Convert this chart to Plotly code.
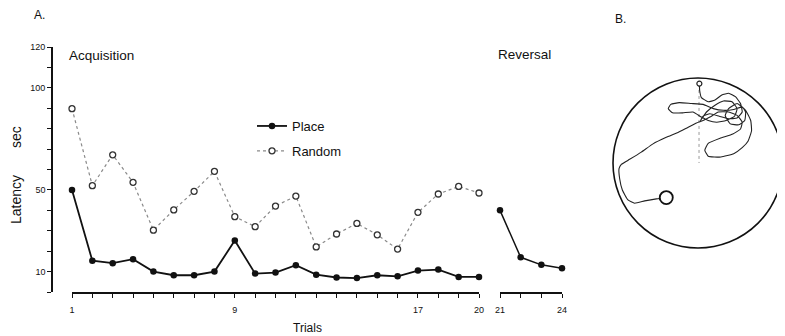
import plotly.graph_objects as go

# ---------------- data ----------------
acq_trials = list(range(1, 22))                       # 21 acquisition points
acq_tick_text = ["1", "", "", "", "", "", "", "", "9", "", "", "", "", "", "", "", "", "17", "", "", "20"]
rev_trials = [21, 22, 23, 24]
rev_tick_text = ["21", "", "", "24"]

place_acq = [50, 15.3, 14.1, 16.1, 10, 8.2, 8.2, 10, 25.2, 9, 9.5, 13.1, 8.5,
             7.1, 6.8, 8.2, 7.7, 10.5, 11.0, 7.4, 7.4]
random_acq = [89.8, 52.1, 67.2, 53.7, 30.3, 40.2, 49.3, 59.1, 36.9, 32, 42.1,
              47, 22.1, 28.4, 33.6, 28, 21, 39, 48, 51.7, 48.5]
place_rev = [40, 17, 13.3, 11.6]

y_tick_vals = list(range(0, 121, 10))
y_tick_text = ["" if v not in (10, 50, 100, 120) else str(v) for v in y_tick_vals]

# panel B: swim path in units of pool radius
path_x = [0.016, 0.02, 0.04, 0.12, 0.2, 0.28, 0.36, 0.44, 0.5, 0.52, 0.46, 0.36, 0.25,
          0.14, 0.06, 0.03, 0.1, 0.2, 0.3, 0.4, 0.46, 0.43, 0.33, 0.22, 0.12, 0.04,
          -0.06, -0.18, -0.3, -0.35, -0.32, -0.22, -0.08, 0.06,
          0.18, 0.3, 0.42, 0.52, 0.56, 0.55, 0.48, 0.38, 0.32, 0.36, 0.46,
          0.56, 0.62, 0.63, 0.59, 0.52, 0.42, 0.27, 0.12, 0.08, 0.12, 0.26, 0.41, 0.5,
          0.52, 0.46, 0.36, 0.24, 0.14, 0.06, 0.016,
          -0.098, -0.235, -0.373, -0.529, -0.667, -0.804, -0.902, -0.929,
          -0.922, -0.89, -0.824, -0.745, -0.627, -0.49, -0.431]
path_y = [0.934, 0.85, 0.77, 0.72, 0.74, 0.80, 0.82, 0.78, 0.70, 0.60, 0.53, 0.52, 0.55,
          0.58, 0.55, 0.50, 0.60, 0.68, 0.73, 0.72, 0.64, 0.55, 0.50, 0.48, 0.50, 0.54,
          0.60, 0.59, 0.59, 0.64, 0.69, 0.71, 0.70, 0.69,
          0.64, 0.62, 0.63, 0.66, 0.60, 0.50, 0.45, 0.46, 0.56, 0.64, 0.70,
          0.62, 0.50, 0.38, 0.26, 0.18, 0.11, 0.07, 0.08, 0.15, 0.23, 0.29, 0.34, 0.40,
          0.48, 0.56, 0.60, 0.60, 0.54, 0.50, 0.484,
          0.43, 0.36, 0.302, 0.225, 0.128, 0.043, -0.016, -0.066,
          -0.182, -0.318, -0.434, -0.473, -0.446, -0.422, -0.415]
start_xy = (0.016, 0.934)
platform_xy = (-0.373, -0.407)

W, H = 785, 336
OFF = 8  # page body margin of the rendered html
def px(x): return (x - OFF) / W
def py(y): return 1 - (y - OFF) / H

FONT = "Liberation Sans, Arial, sans-serif"
fig = go.Figure()

# Place (acquisition)
fig.add_trace(go.Scatter(
    x=acq_trials, y=place_acq, mode="lines+markers", name="Place",
    line=dict(color="#111", width=1.8), marker=dict(color="#111", size=6.5),
    xaxis="x", yaxis="y", cliponaxis=False, legendgroup="a"))
# Random (acquisition)
fig.add_trace(go.Scatter(
    x=acq_trials, y=random_acq, mode="lines+markers", name="Random",
    line=dict(color="#8a8a8a", width=1.2, dash="dot"),
    marker=dict(color="white", size=6, symbol="circle", line=dict(color="#333", width=1.3)),
    xaxis="x", yaxis="y", cliponaxis=False, legendgroup="b"))
# Place (reversal)
fig.add_trace(go.Scatter(
    x=rev_trials, y=place_rev, mode="lines+markers", showlegend=False,
    line=dict(color="#111", width=1.5), marker=dict(color="#111", size=6.5),
    xaxis="x2", yaxis="y", cliponaxis=False))

# Panel B
fig.add_trace(go.Scatter(x=[0.012, 0.012], y=[0.93, 0.0], mode="lines", showlegend=False,
                         line=dict(color="#999", width=1, dash="dot"), xaxis="x3", yaxis="y3"))
fig.add_trace(go.Scatter(x=path_x, y=path_y, mode="lines", showlegend=False,
                         line=dict(color="#222", width=1.1, shape="spline", smoothing=0.4),
                         xaxis="x3", yaxis="y3"))
fig.add_trace(go.Scatter(x=[path_x[-1]], y=[path_y[-1]], mode="markers", showlegend=False,
                         marker=dict(color="#111", size=5), xaxis="x3", yaxis="y3"))
fig.add_trace(go.Scatter(x=[platform_xy[0]], y=[platform_xy[1]], mode="markers", showlegend=False,
                         marker=dict(color="white", size=13, line=dict(color="#111", width=1.8)),
                         xaxis="x3", yaxis="y3"))
fig.add_trace(go.Scatter(x=[start_xy[0]], y=[start_xy[1]], mode="markers", showlegend=False,
                         marker=dict(color="white", size=5, line=dict(color="#222", width=1.2)),
                         xaxis="x3", yaxis="y3"))

fig.add_shape(type="circle", xref="x3", yref="y3", x0=-1, y0=-1, x1=1, y1=1,
              line=dict(color="#111", width=1.6))

axis_common = dict(showline=True, linecolor="#111", linewidth=1.6, ticks="outside",
                   ticklen=4, tickwidth=1.3, tickcolor="#111", showgrid=False, zeroline=False,
                   automargin=False,
                   tickfont=dict(family=FONT, size=9, color="#111"))

fig.update_layout(
    template="none",
    width=W, height=H, margin=dict(l=0, r=0, t=0, b=0, pad=0, autoexpand=False),
    paper_bgcolor="white", plot_bgcolor="white",
    font=dict(family=FONT, color="#111"),
    xaxis=dict(domain=[px(72), px(479)], range=[1, 21], anchor="y", ticklabelstandoff=4,
               tickmode="array", tickvals=acq_trials, ticktext=acq_tick_text, **axis_common),
    xaxis2=dict(domain=[px(500), px(562)], range=[21, 24], anchor="y", ticklabelstandoff=4,
                tickmode="array", tickvals=rev_trials, ticktext=rev_tick_text, **axis_common),
    yaxis=dict(domain=[py(292), py(47)], range=[0, 120], anchor="free", position=px(52),
               tickmode="array", tickvals=y_tick_vals, ticktext=y_tick_text, **axis_common),
    xaxis3=dict(domain=[px(611), px(785)], range=[-1.0235, 1.0235], visible=False, anchor="y3",
                automargin=False),
    yaxis3=dict(domain=[py(250), py(76)], range=[-1.0235, 1.0235], visible=False, anchor="x3",
                automargin=False),
    legend=dict(x=px(252), y=py(111), xanchor="left", yanchor="top",
                bgcolor="rgba(0,0,0,0)", font=dict(family=FONT, size=13, color="#111"),
                traceorder="grouped", tracegroupgap=5),
    showlegend=True,
)

def ann(text, x, y, size, **kw):
    fig.add_annotation(text=text, x=px(x), y=py(y), xref="paper", yref="paper",
                       showarrow=False, font=dict(family=FONT, size=size, color="#111"), **kw)

ann("A.", 32, 15, 12, xanchor="left", yanchor="middle")
ann("B.", 613, 19, 12, xanchor="left", yanchor="middle")
ann("Acquisition", 67, 56, 13.5, xanchor="left", yanchor="middle")
ann("Reversal", 496, 55, 13.5, xanchor="left", yanchor="middle")
ann("Trials", 307, 328, 12, xanchor="center", yanchor="middle")
ann("Latency", 16, 200, 14, xanchor="center", yanchor="middle", textangle=-90)
ann("sec", 16, 137, 14, xanchor="center", yanchor="middle", textangle=-90)

fig.write_html("out.html")
